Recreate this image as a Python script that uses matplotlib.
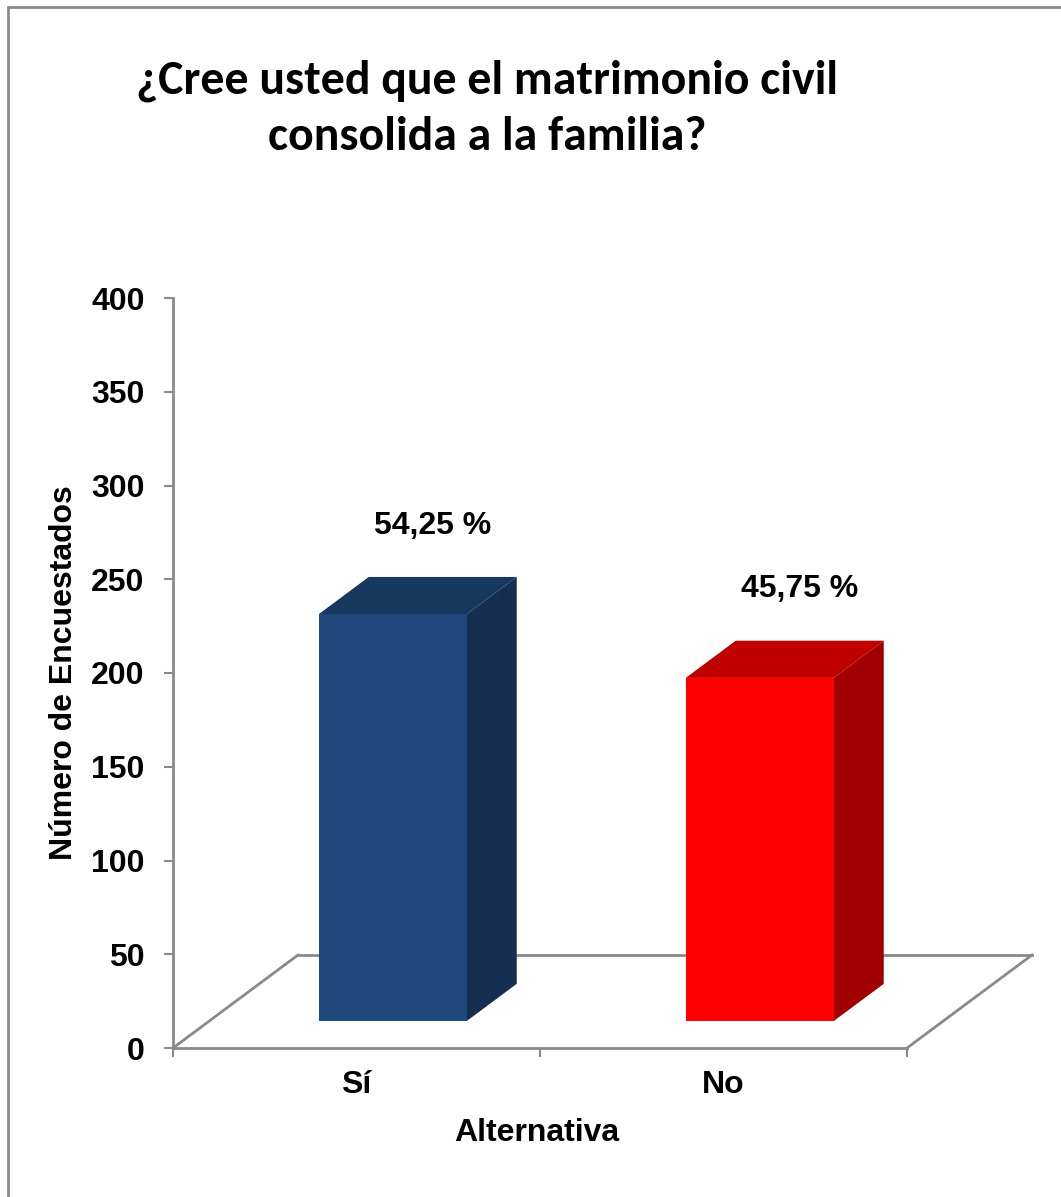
import matplotlib
matplotlib.use("Agg")
import matplotlib.pyplot as plt
from matplotlib.patches import Polygon, Rectangle
from matplotlib.lines import Line2D
from matplotlib import font_manager

# ---- data ----
categories = ["Sí", "No"]
values = [217, 183]
pct_labels = ["54,25 %", "45,75 %"]
y_ticks = [0, 50, 100, 150, 200, 250, 300, 350, 400]
title_lines = ["¿Cree usted que el matrimonio civil", "consolida a la familia?"]
xlabel = "Alternativa"
ylabel = "Número de Encuestados"

front_colors = ["#1F497D", "#FF0000"]
top_colors = ["#18385F", "#C00000"]
side_colors = ["#162F50", "#A00000"]

W, H, DPI = 1061, 1197, 100
fig = plt.figure(figsize=(W / DPI, H / DPI), dpi=DPI)
fig.patch.set_facecolor("white")

def fx(px):
    return px / W

def fy(py):
    return 1 - py / H

avail = {f.name for f in font_manager.fontManager.ttflist}
arial = "Liberation Sans" if "Liberation Sans" in avail else "DejaVu Sans"
title_font = None
for cand in ["Carlito", "Liberation Sans Narrow", "Open Sans", "Noto Sans"]:
    if cand in avail:
        title_font = cand
        break
if title_font is None:
    title_font = "DejaVu Sans"

# outer border (cropped chart frame)
fig.add_artist(Rectangle((fx(8), fy(1300)), fx(1100), fy(7) - fy(1300),
                         transform=fig.transFigure, fill=False,
                         edgecolor="#8A8A8A", linewidth=2))

# axes = front plane of the 3D plot
left_px, right_px, top_px, bot_px = 173, 907, 298, 1048
ax = fig.add_axes([fx(left_px), fy(bot_px), fx(right_px) - fx(left_px), fy(top_px) - fy(bot_px)])
ax.set_xlim(-0.5, 1.5)
ax.set_ylim(0, 400)
ax.set_facecolor("none")
for s in ["top", "right"]:
    ax.spines[s].set_visible(False)
for s in ["left", "bottom"]:
    ax.spines[s].set_color("#8A8A8A")
    ax.spines[s].set_linewidth(2)

fs = 23
ax.set_yticks(y_ticks)
ax.set_yticklabels([str(v) for v in y_ticks], fontsize=fs, fontweight="bold", family=arial)
ax.tick_params(axis="y", direction="out", length=6.5, width=1.5, color="#8A8A8A", pad=14)
ax.set_xticks([-0.5, 0.5, 1.5])
ax.set_xticklabels([])
ax.tick_params(axis="x", which="major", direction="out", length=6.5, width=1.5, color="#8A8A8A")
ax.set_xticks(range(len(categories)), minor=True)
ax.set_xticklabels(categories, minor=True, fontsize=fs, fontweight="bold", family=arial)
ax.tick_params(axis="x", which="minor", length=0, pad=16)

# 3D floor geometry (depth vector in data units)
px_per_x = (right_px - left_px) / 2.0
px_per_y = (bot_px - top_px) / 400.0
DX = 125 / px_per_x
DY = 93 / px_per_y
f0, f1 = 0.29, 0.69
bw = 148 / px_per_x

floor_kw = dict(color="#8A8A8A", linewidth=2, clip_on=False)
ax.add_line(Line2D([-0.5, -0.5 + DX], [0, DY], **floor_kw))
ax.add_line(Line2D([1.5, 1.5 + DX], [0, DY], **floor_kw))
ax.add_line(Line2D([-0.5 + DX, 1.5 + DX], [DY, DY], **floor_kw))

ddx = (f1 - f0) * DX
ddy = (f1 - f0) * DY
for i, v in enumerate(values):
    x0 = i + f0 * DX - bw / 2
    x1 = x0 + bw
    yb = f0 * DY
    yt = yb + v
    ax.add_patch(Polygon([(x1, yb), (x1 + ddx, yb + ddy), (x1 + ddx, yt + ddy), (x1, yt)],
                         closed=True, facecolor=side_colors[i], edgecolor="none", clip_on=False, zorder=3))
    ax.add_patch(Polygon([(x0, yt), (x1, yt), (x1 + ddx, yt + ddy), (x0 + ddx, yt + ddy)],
                         closed=True, facecolor=top_colors[i], edgecolor="none", clip_on=False, zorder=3))
    ax.add_patch(Rectangle((x0, yb), bw, v, facecolor=front_colors[i], edgecolor="none",
                           clip_on=False, zorder=4))
    ax.annotate(pct_labels[i], xy=(i + f0 * DX + 0.8 * ddx, yt + ddy), xytext=(0, 37),
                textcoords="offset points", ha="center", va="center",
                fontsize=fs, fontweight="bold", family=arial, annotation_clip=False)

# axis titles
fig.text(fx(537), fy(1141), xlabel, ha="center", va="baseline",
         fontsize=fs, fontweight="bold", family=arial)
fig.text(fx(64), fy(673), ylabel, ha="center", va="center", rotation=90,
         fontsize=fs, fontweight="bold", family=arial)

# title, scaled so line 1 spans ~703 px
t1 = fig.text(fx(487), fy(93), title_lines[0], ha="center", va="baseline",
              fontsize=33, fontweight="bold", family=[title_font, "DejaVu Sans"])
renderer = fig.canvas.get_renderer()
w = t1.get_window_extent(renderer).width
size = 33 * 703 / w
t1.set_fontsize(size)
fig.text(fx(487), fy(150), title_lines[1], ha="center", va="baseline",
         fontsize=size, fontweight="bold", family=[title_font, "DejaVu Sans"])

fig.savefig("out.png", dpi=DPI, facecolor="white")
